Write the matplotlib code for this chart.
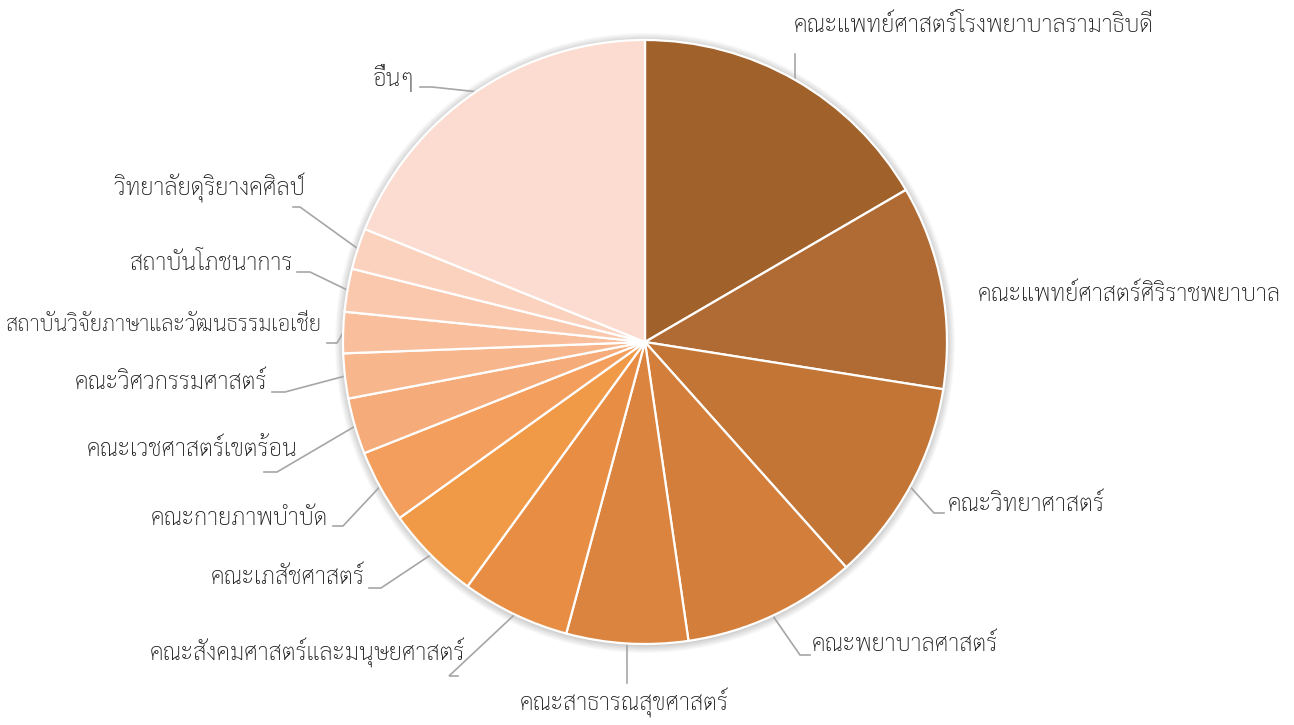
import matplotlib
matplotlib.use('Agg')
import matplotlib.pyplot as plt
import numpy as np

# faculty names and share of total (%)
labels = ['คณะแพทย์ศาสตร์โรงพยาบาลรามาธิบดี', 'คณะแพทย์ศาสตร์ศิริราชพยาบาล',
          'คณะวิทยาศาสตร์', 'คณะพยาบาลศาสตร์', 'คณะสาธารณสุขศาสตร์',
          'คณะสังคมศาสตร์และมนุษยศาสตร์', 'คณะเภสัชศาสตร์', 'คณะกายภาพบำบัด',
          'คณะเวชศาสตร์เขตร้อน', 'คณะวิศวกรรมศาสตร์',
          'สถาบันวิจัยภาษาและวัฒนธรรมเอเชีย', 'สถาบันโภชนาการ',
          'วิทยาลัยดุริยางคศิลป์', 'อื่นๆ']
shares = [16.6, 10.9, 10.9, 9.3, 6.5, 5.8, 5.1, 3.9, 3.0, 2.4, 2.2, 2.3, 2.2, 18.9]
colors = ['#A0612B', '#B06A33', '#C37535', '#D37E3B', '#DB843F', '#E88E44',
          '#F09A48', '#F49E5D', '#F6AC7A', '#F8B68D', '#F9BE9C', '#F9C8AD',
          '#FAD2BE', '#FCDCD0']

W, H = 1294, 725
fig = plt.figure(figsize=(W/100, H/100), dpi=100)
ax = fig.add_axes([0, 0, 1, 1])

cx, cy, R = 645, H-342, 302

# soft shadow round the pie
for i in range(8):
    ax.add_patch(plt.Circle((cx, cy-1), R+1+i, color='#000000', alpha=0.025, lw=0, zorder=0))

wedges, _ = ax.pie(shares, colors=colors, startangle=90, counterclock=False,
                   center=(cx, cy), radius=R, frame=True,
                   wedgeprops=dict(edgecolor='white', linewidth=1.6))
for w in wedges:
    w.set_zorder(2)
ax.set_xlim(0, W)
ax.set_ylim(0, H)
ax.set_aspect('equal')
ax.axis('off')

# label layout in pixels from top-left: text x, text y, ha, leader elbow, leader end, size
layout = [
    (974, 25, 'center', None, None, 17),
    (978, 295, 'left', None, None, 17),
    (948, 505, 'left', (934, 513), (944, 513), 17),
    (812, 645, 'left', (800, 655), (810, 655), 17),
    (624, 703, 'center', None, (627, 683), 17),
    (465, 653, 'right', (449, 676), (458, 676), 17),
    (365, 578, 'right', (381, 588), (369, 588), 17),
    (328, 519, 'right', (343, 526), (333, 526), 17),
    (298, 450, 'right', (277, 472), (264, 472), 17),
    (267, 383, 'right', (285, 392), (272, 392), 17),
    (322, 325, 'right', (337, 343), (327, 343), 15.8),
    (293, 263, 'right', (310, 272), (297, 272), 17),
    (305, 188, 'right', (300, 207), (293, 207), 17),
    (415, 78, 'right', (432, 87), (420, 87), 17),
]

for w, lab, (tx, ty, ha, elbow, end, fs) in zip(wedges, labels, layout):
    mid = np.deg2rad((w.theta1 + w.theta2) / 2)
    px, py = cx + R*np.cos(mid), cy + R*np.sin(mid)
    if w is wedges[0]:
        ax.plot([px, px], [py, H-54], color='#A6A6A6', lw=1.2, zorder=1)
    elif end is not None:
        pts = [(px, py)]
        if elbow is not None:
            pts.append((elbow[0], H-elbow[1]))
        pts.append((end[0], H-end[1]))
        xs, ys = zip(*pts)
        ax.plot(xs, ys, color='#A6A6A6', lw=1.2, zorder=1, solid_joinstyle='miter')
    ax.text(tx, H-ty, lab, ha=ha, va='center', fontsize=fs, fontweight='light',
            family=['Sarabun', 'DejaVu Sans'], color='#1a1a1a')

fig.savefig('out.png', dpi=100)
